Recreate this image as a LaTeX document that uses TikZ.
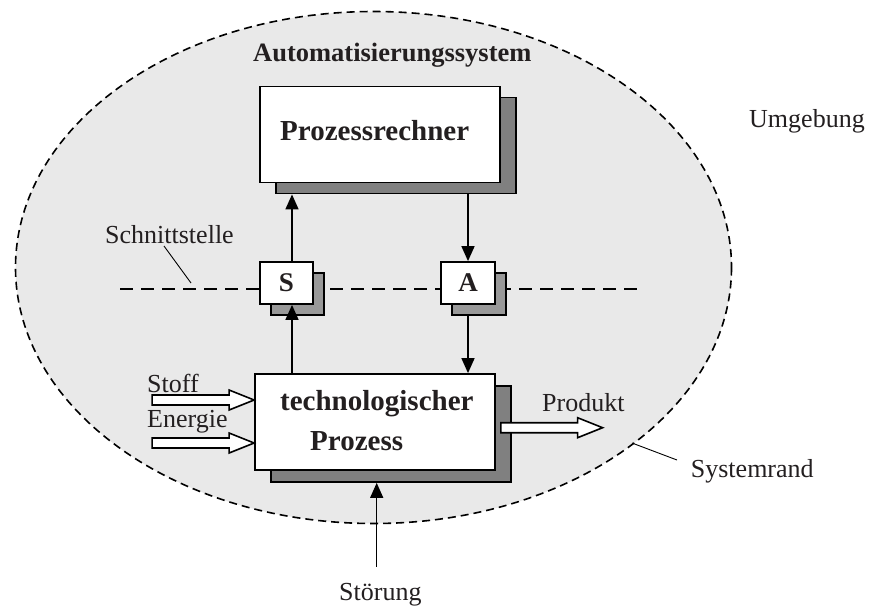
\documentclass[tikz,border=0pt]{standalone}
\usepackage{fontspec}
\setmainfont{Liberation Serif}
\usetikzlibrary{arrows.meta,calc}

\definecolor{areagray}{HTML}{E9E9E9}
\definecolor{darkshade}{HTML}{808080}
\definecolor{lightshade}{HTML}{999999}
\definecolor{ink}{HTML}{231F20}

\tikzset{
  normaltext/.style={inner sep=0pt, anchor=base west, text=ink,
    font=\fontsize{26}{30}\selectfont},
  boldtext/.style={inner sep=0pt, anchor=base west, text=ink,
    font=\bfseries\fontsize{29}{33}\selectfont},
  whitebox/.style={draw=black, line width=1.8pt, fill=white, inner sep=0pt},
  bigshade/.style={draw=black, line width=1.8pt, fill=darkshade, inner sep=0pt},
  smallshade/.style={draw=black, line width=1.8pt, fill=lightshade, inner sep=0pt},
  flow/.style={line width=1.5pt, -{Triangle[length=15pt,width=13pt]}},
  leader/.style={line width=0.9pt},
  fatline/.style={draw=black, line width=1.6pt, fill=white, line join=miter},
  pics/fatarrow/.style={code={
    \draw[fatline] (0,0) -- (-25,-10) -- (-25,-5) -- (-#1,-5) -- (-#1,5)
      -- (-25,5) -- (-25,10) -- cycle;}}
}

\begin{document}
\begin{tikzpicture}[x=1pt,y=-1pt]
\useasboundingbox (0,0) rectangle (869,606);

% system boundary
\fill[areagray] (373.5,267.5) ellipse [x radius=358, y radius=256];
\draw[line width=1.6pt, dash pattern=on 8pt off 5pt]
  (373.5,267.5) ellipse [x radius=358, y radius=256];

% interface line
\draw[line width=1.8pt, dash pattern=on 13pt off 8pt] (120,288.7) -- (640,288.7);

% process computer
\node[bigshade, minimum width=240pt, minimum height=96pt] (rshade) at (396,145.5) {};
\node[whitebox, minimum width=240pt, minimum height=96pt] (rechner) at (380,134.5) {};
\node[boldtext] (rtext) at (280,140) {Prozessrechner};

% sensor and actuator
\node[smallshade, minimum width=53pt, minimum height=42pt] (sshade) at (297.5,294) {};
\node[whitebox, minimum width=53pt, minimum height=42pt] (S) at (286.5,283)
  {\bfseries\fontsize{27}{30}\selectfont\color{ink}S};
\node[smallshade, minimum width=54pt, minimum height=42pt] (ashade) at (479,294) {};
\node[whitebox, minimum width=54pt, minimum height=42pt] (A) at (468,283)
  {\bfseries\fontsize{27}{30}\selectfont\color{ink}A};

% technological process
\node[bigshade, minimum width=240pt, minimum height=96pt] (pshade) at (391,434) {};
\node[whitebox, minimum width=240pt, minimum height=96pt] (proc) at (375,422) {};
\node[boldtext] (ptext1) at (280,410.7) {technologischer};
\node[boldtext] (ptext2) at (310,450.7) {Prozess};

% signal paths
\coordinate (sline) at (292,0);
\coordinate (aline) at (468,0);
\draw[flow] (S.north -| sline) -- (rshade.south -| sline);
\draw[flow] (proc.north -| sline) -- (S.south -| sline);
\draw[flow] (rshade.south -| aline) -- (A.north -| aline);
\draw[flow] (ashade.south -| aline) -- (proc.north -| aline);

% disturbance
\node[normaltext] (stoer) at (339,600) {Störung};
\coordinate (stoertail) at (376.7,566.7);
\draw[flow] (stoertail) -- (pshade.south -| stoertail);

% material, energy and product flows
\coordinate (stoffy) at (0,400);
\coordinate (energiey) at (0,443);
\coordinate (produkty) at (0,427.7);
\pic at (proc.west |- stoffy) {fatarrow=102};
\pic at (proc.west |- energiey) {fatarrow=102};
\pic at ($(proc.east |- produkty)+(106.7,0)$) {fatarrow=101.7};
\node[normaltext] (stoff) at (147,392) {Stoff};
\node[normaltext] (energie) at (147,427) {Energie};
\node[normaltext] (produkt) at (542,411.7) {Produkt};

% labels
\node[inner sep=0pt, anchor=base west, text=ink,
  font=\bfseries\fontsize{26.5}{30}\selectfont] (auto) at (253,61.7) {Automatisierungssystem};
\node[normaltext] (umgebung) at (749,127) {Umgebung};
\node[normaltext] (schnitt) at (105,243.3) {Schnittstelle};
\node[normaltext] (rand) at (690.7,477) {Systemrand};

% leader lines
\coordinate (schnittfoot) at (191,283);
\draw[leader] (164,246) -- (schnittfoot);
\coordinate (randfoot) at (632,443);
\draw[leader] (randfoot) -- (677,460);
\end{tikzpicture}
\end{document}
